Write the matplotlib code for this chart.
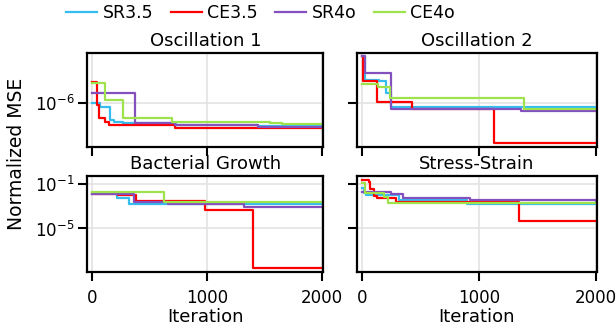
import matplotlib
matplotlib.use("Agg")
import matplotlib.pyplot as plt
from matplotlib.ticker import NullLocator

plt.rcParams['font.family'] = ['DejaVu Sans']

methods = ["SR3.5", "CE3.5", "SR4o", "CE4o"]
colors = ["#35bdf0", "#ff0000", "#8450bd", "#9fe34c"]
titles = ["Oscillation 1", "Oscillation 2", "Bacterial Growth", "Stress-Strain"]

# step curves: (iterations, best normalized MSE)
osc1 = {
    "SR3.5": ([0, 63, 151, 188, 266, 730, 1440, 2000],
              [1.0e-6, 8.7e-7, 5.0e-7, 4.6e-7, 4.4e-7, 4.0e-7, 3.9e-7, 3.9e-7]),
    "CE3.5": ([0, 37, 60, 110, 140, 720, 2000],
              [2.4e-6, 9.3e-7, 5.3e-7, 4.6e-7, 4.0e-7, 3.5e-7, 3.5e-7]),
    "SR4o": ([0, 374, 720, 1440, 2000],
             [1.56e-6, 4.4e-7, 4.1e-7, 3.7e-7, 3.7e-7]),
    "CE4o": ([0, 113, 266, 690, 1550, 1650, 2000],
             [2.3e-6, 1.15e-6, 5.3e-7, 4.6e-7, 4.3e-7, 4.15e-7, 4.15e-7]),
}
osc2 = {
    "SR3.5": ([0, 25, 150, 210, 253, 1360, 2000],
              [7.2e-6, 2.7e-6, 2.5e-6, 1.52e-6, 8.7e-7, 8.5e-7, 8.5e-7]),
    "CE3.5": ([0, 14, 130, 433, 1132, 2000],
              [7.2e-6, 2.5e-6, 1.07e-6, 7.8e-7, 1.9e-7, 1.9e-7]),
    "SR4o": ([0, 26, 247, 1359, 2000],
             [7.2e-6, 3.6e-6, 7.9e-7, 7.1e-7, 7.1e-7]),
    "CE4o": ([0, 136, 240, 1388, 2000],
             [2.2e-6, 2.0e-6, 1.23e-6, 7.8e-7, 7.8e-7]),
}
bact = {
    "SR3.5": ([0, 214, 322, 2000],
              [1.54e-2, 5.4e-3, 1.74e-3, 1.74e-3]),
    "CE3.5": ([0, 220, 379, 977, 1397, 2000],
              [1.39e-2, 1.08e-2, 2.9e-3, 4.5e-4, 3.0e-9, 3.0e-9]),
    "SR4o": ([0, 365, 655, 1324, 2000],
             [1.39e-2, 2.2e-3, 1.57e-3, 8.9e-4, 8.9e-4]),
    "CE4o": ([0, 626, 2000],
             [1.9e-2, 2.2e-3, 2.2e-3]),
}
stress = {
    "SR3.5": ([0, 20, 35, 317, 900, 2000],
              [4.6e-2, 1.64e-2, 1.13e-2, 3.6e-3, 1.74e-3, 1.74e-3]),
    "CE3.5": ([0, 58, 72, 101, 131, 291, 1345, 2000],
              [0.216, 0.161, 3.8e-2, 8.3e-3, 5.1e-3, 2.37e-3, 4.6e-5, 4.6e-5]),
    "SR4o": ([0, 247, 349, 922, 2000],
             [2.0e-2, 1.17e-2, 5.1e-3, 3.6e-3, 2.05e-3]),
    "CE4o": ([0, 29, 189, 227, 2000],
             [0.123, 1.64e-2, 7.1e-3, 1.81e-3, 1.81e-3]),
}
panels = [osc1, osc2, bact, stress]

fig = plt.figure(figsize=(6.16, 3.25), dpi=100)
W, H = 616, 325
def ax_rect(x0, x1, y0, y1):
    return [x0 / W, 1 - y1 / H, (x1 - x0) / W, (y1 - y0) / H]

ax00 = fig.add_axes(ax_rect(87.3, 323.3, 53, 147))
ax01 = fig.add_axes(ax_rect(356.5, 597.3, 53, 147), sharex=ax00, sharey=ax00)
ax10 = fig.add_axes(ax_rect(87.3, 323.3, 176, 271.5), sharex=ax00)
ax11 = fig.add_axes(ax_rect(356.5, 597.3, 176, 271.5), sharex=ax00, sharey=ax10)
axes = [ax00, ax01, ax10, ax11]

for ax, data, title in zip(axes, panels, titles):
    for m, c in zip(methods, colors):
        xs, ys = data[m]
        ax.plot(xs, ys, drawstyle="steps-post", color=c, lw=1.6, label=m)
    ax.set_yscale("log")
    ax.set_title(title, fontsize=13, pad=5)
    ax.grid(True, color="#e3e3e3", lw=1.2)
    ax.set_axisbelow(True)
    for s in ax.spines.values():
        s.set_linewidth(1.6)
        s.set_color("black")
    ax.tick_params(axis="both", which="major", length=6.5, width=1.5,
                   labelsize=12, color="black")
    ax.tick_params(axis="x", pad=6)
    ax.tick_params(axis="y", pad=2.5)
    ax.yaxis.set_minor_locator(NullLocator())

ax00.set_xlim(-45, 2012)
ax00.set_xticks([0, 1000, 2000])
ax00.set_ylim(10 ** -6.795, 10 ** -5.085)
ax00.set_yticks([1e-6])
ax10.set_ylim(10 ** -8.87, 10 ** -0.28)
ax10.set_yticks([1e-1, 1e-5])
ax00.yaxis.set_minor_locator(NullLocator())
ax10.yaxis.set_minor_locator(NullLocator())

for ax in [ax00, ax01]:
    ax.tick_params(labelbottom=False)
for ax in [ax01, ax11]:
    ax.tick_params(labelleft=False)
for ax in [ax10, ax11]:
    ax.set_xlabel("Iteration", fontsize=13, labelpad=1)

fig.text(0.027, 0.525, "Normalized MSE", rotation=90, ha="center", va="center",
         fontsize=13.5)

handles, labels = ax00.get_legend_handles_labels()
fig.legend(handles, labels, loc="upper center", bbox_to_anchor=(260.5 / W, 1.035),
           ncol=4, frameon=False, fontsize=12.5, handlelength=1.8,
           handletextpad=0.3, columnspacing=1.0)

fig.savefig("out.png", dpi=100)
